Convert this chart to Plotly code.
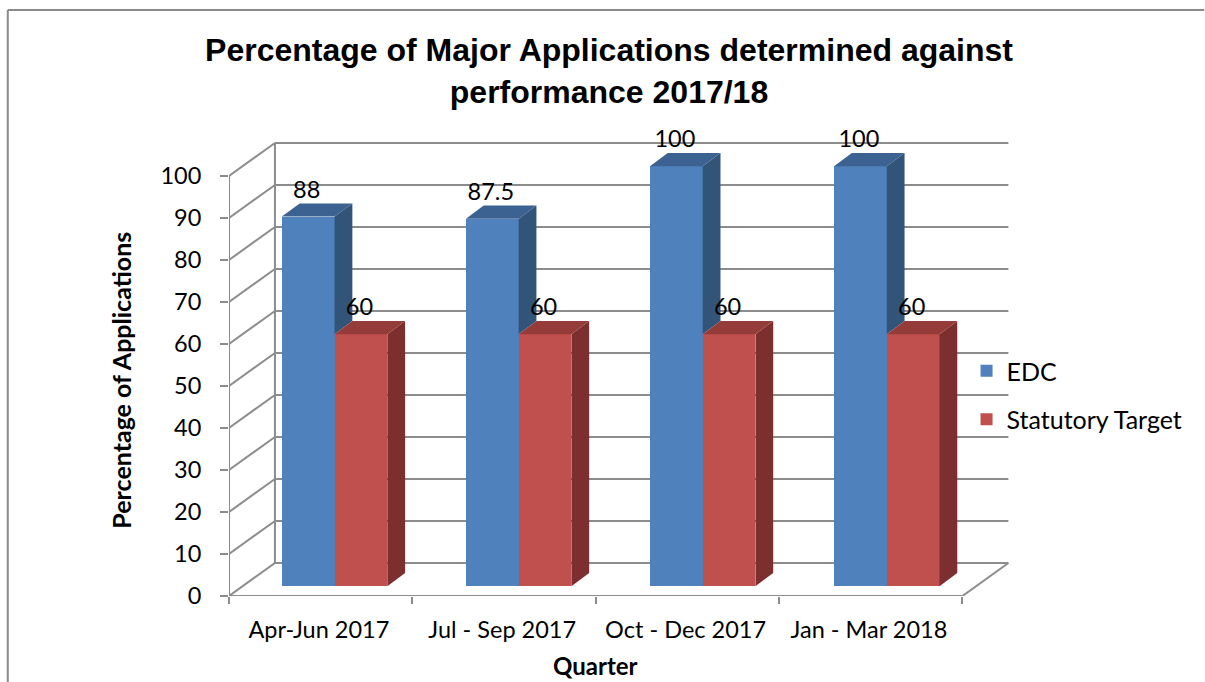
import plotly.graph_objects as go

# ---- data ----
categories = ["Apr-Jun 2017", "Jul - Sep 2017", "Oct - Dec 2017", "Jan - Mar 2018"]
edc = [88, 87.5, 100, 100]
statutory = [60, 60, 60, 60]
y_ticks = list(range(0, 101, 10))

# ---- geometry ----
W, H = 1205, 682
L, R, T, B = 228.5, 1009.5, 142, 596
CAT_PX = 183.6
UNIT_PX = 4.2
X_MAX = (R - L) / CAT_PX
Y_MAX = (B - T) / UNIT_PX
WALL_DX, WALL_DY = 46 / CAT_PX, 33 / UNIT_PX      # depth of the floor
BAR_W = 52.8 / CAT_PX
BAR_DX, BAR_DY = 17.8 / CAT_PX, 13.2 / UNIT_PX    # depth of a bar
BASE = 9.8 / UNIT_PX
STEP = 184.3 / CAT_PX                             # spacing between bar groups
BLUE_C = 0.432
RED_C = BLUE_C + BAR_W
N = len(categories)

GREY = "#8C8C8C"
BODY = "Lato"
TITLE = "Liberation Sans"
FS = 23.5


def px(x):
    return (x - L) / (R - L)


def py(y):
    return (H - y - (H - B)) / (B - T)


def seg(x0, y0, x1, y1, w=2):
    return dict(type="line", xref="x", yref="y", x0=x0, y0=y0, x1=x1, y1=y1,
                layer="below", line=dict(color=GREY, width=w))


shapes = []
for v in y_ticks:
    shapes.append(seg(0, v, WALL_DX, v + WALL_DY))
    shapes.append(seg(WALL_DX, v + WALL_DY, N + WALL_DX, v + WALL_DY))
shapes.append(seg(0, 0, 0, y_ticks[-1]))                 # front value axis
shapes.append(seg(WALL_DX, WALL_DY, WALL_DX, y_ticks[-1] + WALL_DY))
shapes.append(seg(0, 0, N, 0))                           # category axis
shapes.append(seg(N, 0, N + WALL_DX, WALL_DY))           # floor right edge

# outer frame: only left and top edges fall inside the crop
for x0, y0, x1, y1 in [(7, 10, 7, H), (7, 10, W, 10)]:
    shapes.append(dict(type="line", xref="paper", yref="paper",
                       x0=px(x0), y0=py(y0), x1=px(x1), y1=py(y1),
                       layer="below", line=dict(color="#8A8A8A", width=2)))

fig = go.Figure()


def poly(xs, ys, color):
    fig.add_trace(go.Scatter(x=xs, y=ys, mode="lines", fill="toself", fillcolor=color,
                             line=dict(width=0, color=color), showlegend=False,
                             hoverinfo="skip"))


fig.add_trace(go.Bar(name="EDC", x=[i * STEP + BLUE_C for i in range(N)], y=edc, base=BASE,
                     width=BAR_W, marker=dict(color="#4F81BD", line=dict(width=0)),
                     legendgroup="a"))
fig.add_trace(go.Bar(name="Statutory Target", x=[i * STEP + RED_C for i in range(N)], y=statutory,
                     base=BASE, width=BAR_W, marker=dict(color="#C0504D", line=dict(width=0)),
                     legendgroup="b"))

for i in range(N):
    # blue bar: side is hidden below the top of the red bar standing beside it
    xr = i * STEP + BLUE_C + BAR_W / 2
    xl = xr - BAR_W
    top = edc[i] + BASE
    low = statutory[i] + BASE
    poly([xr, xr + BAR_DX, xr + BAR_DX, xr, xr],
         [top, top + BAR_DY, low + BAR_DY, low, top], "#335479")
    poly([xl, xr, xr + BAR_DX, xl + BAR_DX, xl],
         [top, top, top + BAR_DY, top + BAR_DY, top], "#3B6290")
    # red bar
    xl2, xr2 = xr, xr + BAR_W
    poly([xr2, xr2 + BAR_DX, xr2 + BAR_DX, xr2, xr2],
         [low, low + BAR_DY, BASE + BAR_DY, BASE, low], "#7C2F2E")
    poly([xl2, xr2, xr2 + BAR_DX, xl2 + BAR_DX, xl2],
         [low, low, low + BAR_DY, low + BAR_DY, low], "#953B39")

for vals, c in [(edc, BLUE_C), (statutory, RED_C)]:
    fig.add_trace(go.Scatter(
        x=[i * STEP + c - 0.008 for i in range(N)],
        y=[v + BASE + BAR_DY for v in vals],
        text=[str(v) for v in vals], mode="text", textposition="top center",
        textfont=dict(family=BODY, size=FS, color="#000000"),
        showlegend=False, hoverinfo="skip", cliponaxis=False))

annotations = [
    dict(text="Quarter", xref="paper", yref="paper", x=px(595), y=py(665),
         xanchor="center", yanchor="middle", showarrow=False,
         font=dict(family=BODY, size=24, color="#000000", weight="bold")),
    dict(text="Percentage of Applications", xref="paper", yref="paper", x=px(120), y=py(380),
         xanchor="center", yanchor="middle", textangle=-90, showarrow=False,
         font=dict(family=BODY, size=25, color="#000000", weight="bold")),
]

fig.update_layout(
    width=W, height=H, autosize=False,
    margin=dict(l=L, r=W - R, t=T, b=H - B, pad=0),
    paper_bgcolor="#FFFFFF", plot_bgcolor="rgba(0,0,0,0)",
    barmode="overlay", bargap=0,
    title=dict(text="Percentage of Major Applications determined against<br>performance 2017/18",
               x=609 / W, xanchor="center", y=1 - 61 / H, yanchor="middle",
               font=dict(family=TITLE, size=32, color="#000000", weight="bold")),
    xaxis=dict(range=[0, X_MAX], tickmode="array",
               tickvals=[i + 0.49 for i in range(N)], ticktext=categories,
               ticks="", showgrid=False, zeroline=False, showline=False,
               ticklabelstandoff=17,
               tickfont=dict(family=BODY, size=FS, color="#000000"),
               minor=dict(tickmode="array", tickvals=list(range(N + 1)), ticks="outside",
                          ticklen=7, tickwidth=2, tickcolor=GREY, showgrid=False)),
    yaxis=dict(range=[0, Y_MAX], tickmode="array", tickvals=y_ticks,
               ticks="outside", ticklen=8, tickwidth=2, tickcolor=GREY,
               showgrid=False, zeroline=False, showline=False,
               ticklabelstandoff=14,
               tickfont=dict(family=BODY, size=FS, color="#000000")),
    legend=dict(x=px(967), y=py(348), xanchor="left", yanchor="top",
                tracegroupgap=13, bgcolor="rgba(0,0,0,0)", traceorder="grouped",
                font=dict(family=BODY, size=25, color="#000000")),
    shapes=shapes, annotations=annotations,
)

fig.write_html("out.html", config={"displayModeBar": False},
               post_script="document.body.style.margin='0';document.body.style.overflow='hidden';")
